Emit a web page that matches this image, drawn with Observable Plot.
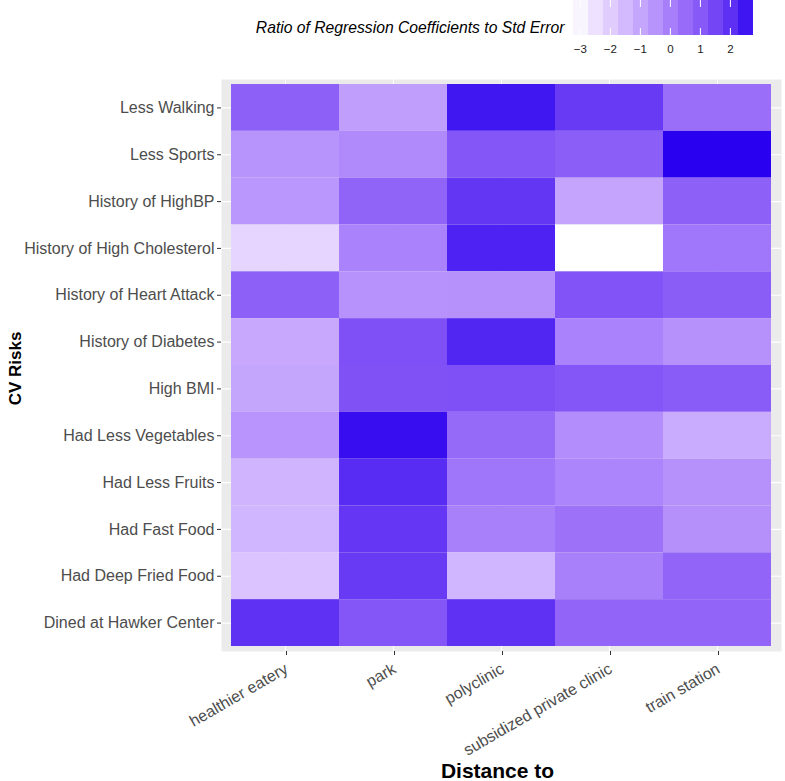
<!DOCTYPE html>
<html><head><meta charset="utf-8">
<script src="https://cdn.jsdelivr.net/npm/d3@7"></script>
<script src="https://cdn.jsdelivr.net/npm/@observablehq/plot@0.6"></script>
<style>
body{margin:0;background:#fff;}
#wrap{position:relative;width:785px;height:781px;overflow:hidden;}
#legend{position:absolute;left:0;top:0;}
#main{position:absolute;left:0;top:0;}
</style></head><body><div id="wrap"><div id="main"></div><div id="legend"></div></div>
<script>
const distances = ["healthier eatery", "park", "polyclinic", "subsidized private clinic", "train station"];
const risks = ["Less Walking", "Less Sports", "History of HighBP", "History of High Cholesterol",
  "History of Heart Attack", "History of Diabetes", "High BMI", "Had Less Vegetables",
  "Had Less Fruits", "Had Fast Food", "Had Deep Fried Food", "Dined at Hawker Center"];
// values per distance column, in the order of risks
const healthierEatery = [0.83, -0.49, -0.59, -2.22, 0.83, -1.03, -0.98, -0.51, -1.37, -1.39, -1.73, 2.00];
const park            = [-0.77, -0.26, 0.73, -0.05, -0.47, 1.25, 1.19, 2.62, 2.10, 1.85, 1.79, 1.09];
const polyclinic      = [2.50, 1.09, 1.88, 2.30, -0.45, 2.25, 1.25, 0.57, 0.29, 0.01, -1.39, 1.97];
const subsidizedClinic= [1.79, 0.88, -0.93, -3.23, 1.15, -0.05, 1.09, -0.33, -0.10, 0.37, 0.01, 0.70];
const trainStation    = [0.47, 2.77, 0.83, 0.26, 0.91, -0.44, 0.96, -1.13, -0.44, -0.41, 0.70, 0.70];
const legendTicks = [-3, -2, -1, 0, 1, 2];
const legendTitle = "Ratio of Regression Coefficients to Std Error";
const xTitle = "Distance to";
const yTitle = "CV Risks";

const columns = [healthierEatery, park, polyclinic, subsidizedClinic, trainStation];
const rows = [];
distances.forEach((dist, j) => {
  risks.forEach((risk, i) => rows.push({distance: dist, risk, value: columns[j][i]}));
});
const extent = d3.extent(rows, d => d.value);
const colorScale = {type: "linear", domain: extent, range: ["#ffffff", "#2a00f0"], interpolate: "lab"};
const font = "'Liberation Sans', Arial, Helvetica, sans-serif";

const main = Plot.plot({
  width: 785, height: 781,
  marginLeft: 221, marginRight: 4, marginTop: 79, marginBottom: 130,
  style: {fontFamily: font, fontSize: "16px", background: "white", overflow: "visible"},
  x: {type: "band", domain: distances, padding: 0, inset: 10, round: false, label: null},
  y: {type: "band", domain: risks, padding: 0, inset: 5, round: false, label: null},
  color: colorScale,
  marks: [
    Plot.frame({fill: "#ebebeb", stroke: "none"}),
    Plot.gridX({stroke: "white", strokeOpacity: 1, strokeWidth: 1.1}),
    Plot.gridY({stroke: "white", strokeOpacity: 1, strokeWidth: 1.1}),
    Plot.cell(rows, {x: "distance", y: "risk", fill: "value"}),
    Plot.axisX({tickRotate: -30, tickSize: 4, tickPadding: 12, dx: 1, fontSize: 16, fill: "#4d4d4d", stroke: "#333", label: null}),
    Plot.axisY({tickSize: 4, tickPadding: 3, fill: "#4d4d4d", stroke: "#333", label: null}),
    Plot.text([yTitle], {frameAnchor: "left", dx: -206, dy: 3, rotate: -90, textAnchor: "middle", fontWeight: "bold", fontSize: 17, fill: "black", text: d => d}),
    Plot.text([xTitle], {frameAnchor: "bottom", dx: -4, dy: 126, lineAnchor: "bottom", textAnchor: "middle", fontWeight: "bold", fontSize: 21, fill: "black", text: d => d})
  ]
});
document.getElementById("main").appendChild(main);

const [lo, hi] = extent;
const nbin = 12;
const bins = d3.range(nbin).map(i => ({
  x1: lo + i * (hi - lo) / nbin,
  x2: lo + (i + 1) * (hi - lo) / nbin,
  v: lo + (i + 0.5) * (hi - lo) / nbin
}));
const legend = Plot.plot({
  width: 785, height: 60,
  marginLeft: 573, marginRight: 32, marginTop: 0, marginBottom: 25,
  style: {fontFamily: font, fontSize: "11.5px", background: "transparent", overflow: "visible"},
  x: {domain: [lo, hi], label: null},
  color: colorScale,
  marks: [
    Plot.rect(bins, {x1: "x1", x2: "x2", fill: "v"}),
    Plot.tickX(legendTicks, {x: d => d, stroke: "white", insetBottom: 28}),
    Plot.tickX(legendTicks, {x: d => d, stroke: "white", insetTop: 28}),
    Plot.axisX(legendTicks, {tickSize: 0, tickPadding: 9, fill: "#1a1a1a", label: null}),
    Plot.text([legendTitle], {frameAnchor: "top-left", dx: -9, dy: 32, lineAnchor: "bottom", textAnchor: "end", fontStyle: "italic", fontSize: 15.7, fill: "black", text: d => d})
  ]
});
document.getElementById("legend").appendChild(legend);
</script></body></html>
